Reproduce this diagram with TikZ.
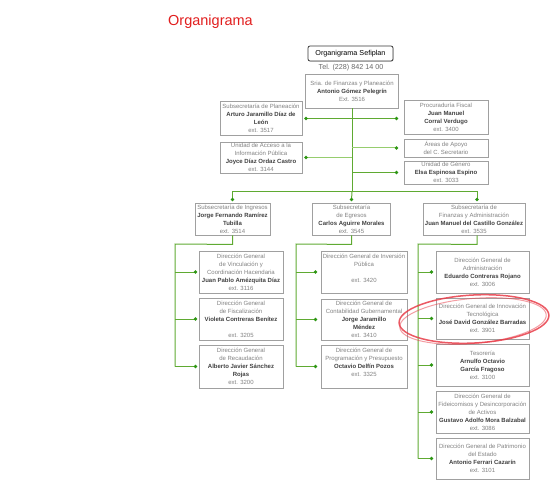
\documentclass[tikz,border=0pt]{standalone}
\usepackage{fontspec}
\setmainfont{Liberation Sans}
\usetikzlibrary{shadows,calc}
\definecolor{txtC}{RGB}{130,130,130}
\definecolor{nameC}{RGB}{65,65,65}
\definecolor{boxC}{RGB}{160,160,160}
\definecolor{lineC}{RGB}{95,170,50}
\definecolor{lineL}{RGB}{150,205,110}
\definecolor{dotC}{RGB}{45,150,20}
\definecolor{titleC}{RGB}{225,30,30}
\definecolor{telC}{RGB}{105,105,105}
\definecolor{ringC}{RGB}{232,60,72}
\newcommand{\pname}[1]{{\bfseries\color{nameC}#1}}
\begin{document}
\begin{tikzpicture}[x=1pt,y=-1pt,
  obox/.style={draw=boxC, line width=0.9pt, fill=white, text=txtC, align=center,
    font=\fontsize{6}{8}\selectfont, inner sep=0pt},
  bx/.style n args={2}{obox, minimum width=#1pt, minimum height=#2pt},
  gl/.style={draw=lineC, line width=1pt},
  gll/.style={draw=lineL, line width=1pt},
  gdot/.style={circle, fill=dotC, inner sep=0pt, minimum size=3.8pt},
  ring/.style={draw=ringC, line width=1.5pt}
]
\useasboundingbox (0,0) rectangle (552,500);

% title and header
\node[font=\fontsize{14.5}{16}\selectfont, text=titleC, anchor=base west, inner sep=0pt] (title) at (168,25.5) {Organigrama};
\node[draw={rgb,255:red,55;green,55;blue,55}, line width=0.8pt, rounded corners=2pt, fill=white,
  drop shadow={opacity=0.35, shadow xshift=0.6pt, shadow yshift=-0.6pt},
  minimum width=85pt, minimum height=15pt, inner sep=0pt, font=\fontsize{7.2}{9}\selectfont] (sef) at (350.5,53.5) {Organigrama Sefiplan};
\node[font=\fontsize{7.2}{9}\selectfont, text=telC, inner sep=0pt] (tel) at (351,67.5) {Tel. (228) 842 14 00};

% top level
\node[bx={93}{34}] (sria) at (352,91) {Sria. de Finanzas y Planeación\\ \pname{Antonio Gómez Pelegrín}\\ Ext. 3516};
\node[bx={82}{34}] (pl) at (261,118.5) {Subsecretaría de Planeación\\ \pname{Arturo Jaramillo Díaz de}\\ \pname{León}\\ ext. 3517};
\node[bx={82}{31}] (ua) at (261,157.5) {Unidad de Acceso a la\\ Información Pública\\ \pname{Joyce Díaz Ordaz Castro}\\ ext. 3144};
\node[bx={84}{34}] (pf) at (446,117.5) {Procuraduría Fiscal\\ \pname{Juan Manuel}\\ \pname{Corral Verdugo}\\ ext. 3400};
\node[bx={84}{18}] (aa) at (446,148) {Áreas de Apoyo\\ del C. Secretario};
\node[bx={84}{23}] (ug) at (446,172.5) {Unidad de Género\\ \pname{Elsa Espinosa Espino}\\ ext. 3033};

% level 2
\node[bx={75}{32}] (ing) at (232.5,219) {Subsecretaría de Ingresos\\ \pname{Jorge Fernando Ramírez}\\ \pname{Tubilla}\\ ext. 3514};
\node[bx={78}{32}] (egr) at (351.5,219) {Subsecretaría\\ de Egresos\\ \pname{Carlos Aguirre Morales}\\ ext. 3545};
\node[bx={102}{32}] (fin) at (474,219) {Subsecretaría de\\ Finanzas y Administración\\ \pname{Juan Manuel del Castillo González}\\ ext. 3535};

% left column
\node[bx={84}{42}] (l1) at (241,272) {Dirección General\\ de Vinculación y\\ Coordinación Hacendaria\\ \pname{Juan Pablo Amézquita Díaz}\\ ext. 3116};
\node[bx={84}{42}] (l2) at (241,319) {Dirección General\\ de Fiscalización\\ \pname{Violeta Contreras Benítez}\\ \mbox{}\\ ext. 3205};
\node[bx={84}{43}] (l3) at (241,366.5) {Dirección General\\ de Recaudación\\ \pname{Alberto Javier Sánchez}\\ \pname{Rojas}\\ ext. 3200};

% middle column
\node[bx={86}{42}] (m1) at (364,272) {Dirección General de Inversión\\ Pública\\ \mbox{}\\ ext. 3420\\ \mbox{}};
\node[bx={86}{41}] (m2) at (364,319.5) {Dirección General de\\ Contabilidad Gubernamental\\ \pname{Jorge Jaramillo}\\ \pname{Méndez}\\ ext. 3410};
\node[bx={86}{43}] (m3) at (364,366.5) {Dirección General de\\ Programación y Presupuesto\\ \pname{Octavio Delfín Pozos}\\ ext. 3325\\ \mbox{}};

% right column
\node[bx={93}{42}] (r1) at (482.5,272) {Dirección General de\\ Administración\\ \pname{Eduardo Contreras Rojano}\\ ext. 3006};
\node[bx={93}{41}] (r2) at (482.5,318.5) {Dirección General de Innovación\\ Tecnológica\\ \pname{José David González Barradas}\\ ext. 3901};
\node[bx={93}{42}] (r3) at (482.5,365) {Tesorería\\ \pname{Arnulfo Octavio}\\ \pname{García Fragoso}\\ ext. 3100};
\node[bx={93}{42}] (r4) at (482.5,412) {Dirección General de\\ Fideicomisos y Desincorporación\\ de Activos\\ \pname{Gustavo Adolfo Mora Balzabal}\\ ext. 3086};
\node[bx={93}{41}] (r5) at (482.5,458.5) {Dirección General de Patrimonio\\ del Estado\\ \pname{Antonio Ferrari Cazarín}\\ ext. 3101};

% junction coordinates
\coordinate (bus) at (352,192);
\coordinate (pl-d) at ([xshift=3.5pt]pl.east);
\coordinate (ua-d) at ([xshift=3.5pt]ua.east);
\coordinate (pf-d) at ([xshift=-7pt]pf.west);
\coordinate (aa-d) at ([xshift=-7pt]aa.west);
\coordinate (ug-d) at ([xshift=-7pt]ug.west);
\coordinate (ing-d) at ([yshift=3pt]ing.north);
\coordinate (egr-d) at ([yshift=3pt]egr.north);
\coordinate (fin-d) at ([xshift=3pt,yshift=3pt]fin.north);

% top connectors
\draw[gl] (sria.south) -- (bus);
\draw[gl] (pl-d) -- (pl-d -| pf-d);
\draw[gll] (ua-d) -- (ua-d -| sria.south);
\draw[gll] (aa-d) -- (aa-d -| sria.south);
\draw[gl] (ug-d) -- (ug-d -| sria.south);
\draw[gl] (ing-d) -- (ing-d |- bus) -- (fin-d |- bus) -- (fin-d);
\draw[gl] (bus) -- (egr-d);

% branches: ingresos
\coordinate (ing-b) at ([yshift=-9pt]ing.south);
\coordinate (ing-v) at (175,244);
\foreach \b in {l1,l2,l3} {\coordinate (\b-d) at ([xshift=-3pt]\b.west);}
\draw[gl] (ing.south) -- (ing-b) -- (ing-v) -- (ing-v |- l3-d);
\foreach \b in {l1,l2,l3} {\draw[gl] (ing-v |- \b-d) -- (\b-d);}

% branches: egresos
\coordinate (egr-b) at ([yshift=-9pt]egr.south);
\coordinate (egr-v) at (296,244);
\foreach \b in {m1,m2,m3} {\coordinate (\b-d) at ([xshift=-5pt]\b.west);}
\draw[gl] (egr.south) -- (egr-b) -- (egr-v) -- (egr-v |- m3-d);
\foreach \b in {m1,m2,m3} {\draw[gl] (egr-v |- \b-d) -- (\b-d);}

% branches: finanzas
\coordinate (fin-s) at ([xshift=3pt]fin.south);
\coordinate (fin-b) at ([xshift=3pt,yshift=-9pt]fin.south);
\coordinate (fin-v) at (418,244);
\foreach \b in {r1,r2,r3,r4,r5} {\coordinate (\b-d) at ([xshift=-4pt]\b.west);}
\draw[gl] (fin-s) -- (fin-b) -- (fin-v) -- (fin-v |- r5-d);
\foreach \b in {r1,r2,r3,r4,r5} {\draw[gl] (fin-v |- \b-d) -- (\b-d);}

% dots
\foreach \p in {pl-d,ua-d,aa-d,ug-d,ing-d,egr-d,fin-d,l1-d,l2-d,l3-d,m1-d,m2-d,m3-d,r1-d,r2-d,r3-d,r4-d,r5-d}
  {\node[gdot] at (\p) {};}
\node[gdot] at (pl-d -| pf-d) {};

% red hand-drawn ring
\draw[ring, opacity=0.85, rotate around={3:(474,319)}] (474,319) ellipse [x radius=75, y radius=24];
\draw[ring, line width=1pt, opacity=0.5, rotate around={5:(473,321)}] (473,321) ellipse [x radius=73.5, y radius=22.5];
\end{tikzpicture}
\end{document}
